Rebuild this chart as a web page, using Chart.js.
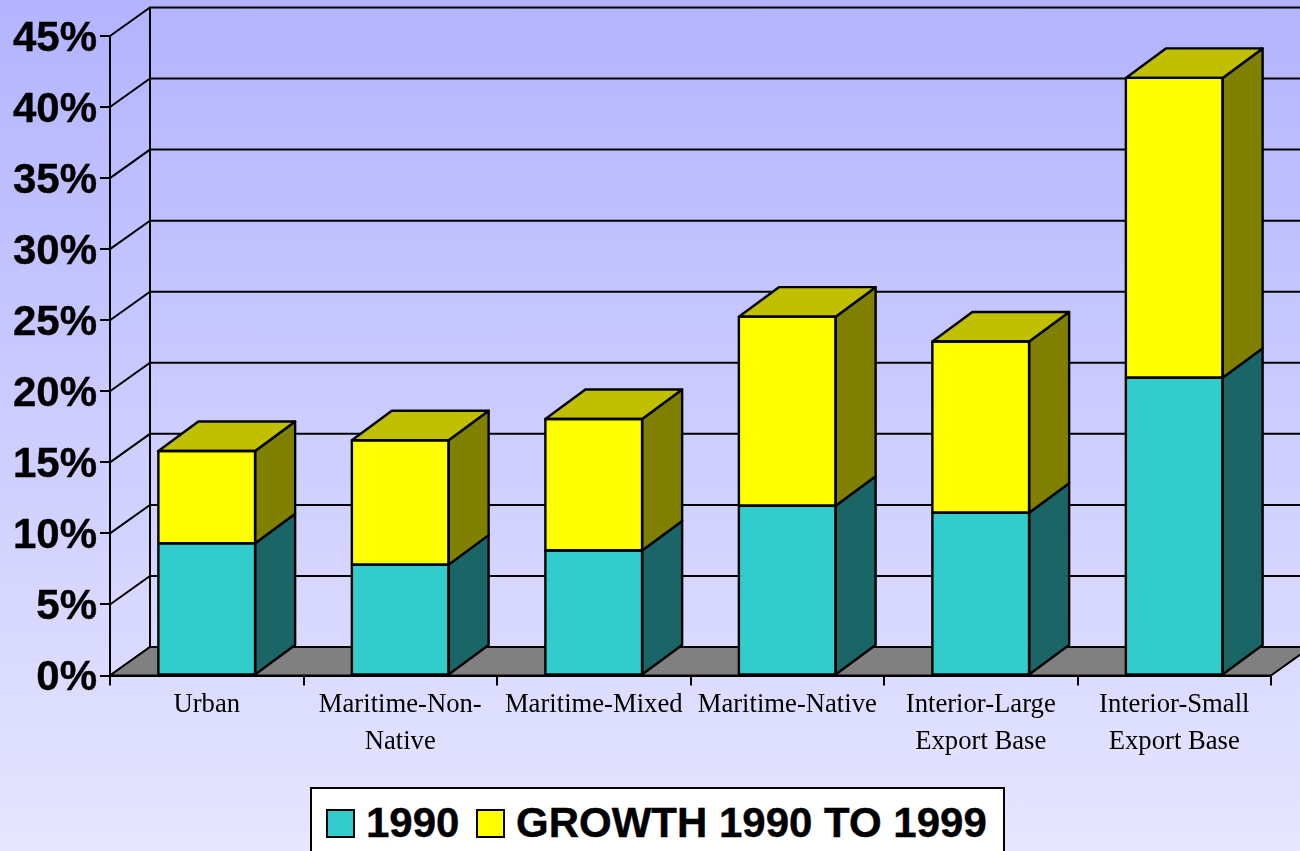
<!DOCTYPE html>
<html>
<head>
<meta charset="utf-8">
<title>Growth 1990 to 1999</title>
<script src="https://cdn.jsdelivr.net/npm/chart.js@4"></script>
<style>
  html, body { margin: 0; padding: 0; width: 1300px; height: 851px; overflow: hidden; }
  body { position: relative; background: linear-gradient(to bottom, #b3b3ff, #e6e6ff); }
  #wrap { position: absolute; left: 0; top: 0; width: 1300px; height: 851px; }
  #legend {
    position: absolute; left: 310px; top: 787px; width: 691px; height: 80px;
    border: 2px solid #000; background: #fff;
    font: bold 42px "Liberation Sans", Arial, sans-serif; color: #000;
    -webkit-text-stroke: 0.4px #000;
  }
  #legend span { position: absolute; top: 13px; white-space: nowrap; line-height: 42px; }
  #legend i { position: absolute; top: 20px; width: 25px; height: 25px; border: 2px solid #000; }
</style>
</head>
<body>
<div id="wrap"><canvas id="grafico" width="1300" height="851"></canvas></div>
<div id="legend"></div>
<script>
const categorias = [
  "Urban",
  ["Maritime-Non-", "Native"],
  "Maritime-Mixed",
  "Maritime-Native",
  ["Interior-Large", "Export Base"],
  ["Interior-Small", "Export Base"]
];
const valores1990 = [9.3, 7.8, 8.8, 11.95, 11.45, 20.95];
const crecimiento = [6.5, 8.75, 9.25, 13.3, 12.05, 21.1];
const nombres = ["1990", "GROWTH 1990 TO 1999"];

const DX = 40, DY = -28.5;
const DX_BARRA = 40, DY_BARRA = -29.5;

function poligono(ctx, puntos, relleno, ancho) {
  ctx.beginPath();
  puntos.forEach((p, i) => i ? ctx.lineTo(p[0], p[1]) : ctx.moveTo(p[0], p[1]));
  ctx.closePath();
  ctx.fillStyle = relleno;
  ctx.fill();
  ctx.lineWidth = ancho;
  ctx.strokeStyle = "#000";
  ctx.lineJoin = "round";
  ctx.stroke();
}

// back wall, side wall and floor, behind the bars
const paredes = {
  id: "paredes",
  beforeDatasetsDraw(chart) {
    const { ctx, chartArea: a, scales: { y } } = chart;
    ctx.save();
    y.ticks.forEach(t => {
      const py = y.getPixelForValue(t.value);
      ctx.beginPath();
      ctx.moveTo(a.left, py);
      ctx.lineTo(a.left + DX, py + DY);
      ctx.lineTo(a.right + DX, py + DY);
      ctx.lineWidth = 2;
      ctx.strokeStyle = "#000";
      ctx.stroke();
    });
    ctx.beginPath();
    ctx.moveTo(a.left + DX, a.bottom + DY);
    ctx.lineTo(a.left + DX, a.top + DY);
    ctx.stroke();
    poligono(ctx, [
      [a.left, a.bottom],
      [a.left + DX, a.bottom + DY],
      [a.right + DX, a.bottom + DY],
      [a.right, a.bottom]
    ], "#808080", 2);
    ctx.restore();
  }
};

// side and top faces of each bar, plus the outline of the front
const caras = {
  id: "caras",
  afterDatasetsDraw(chart) {
    const { ctx } = chart;
    ctx.save();
    chart.data.datasets.forEach((ds, i) => {
      chart.getDatasetMeta(i).data.forEach(el => {
        const der = el.x + el.width / 2, izq = el.x - el.width / 2;
        poligono(ctx, [
          [der, el.y], [der + DX_BARRA, el.y + DY_BARRA], [der + DX_BARRA, el.base + DY_BARRA], [der, el.base]
        ], ds.colorLado, 2.4);
        if (i === chart.data.datasets.length - 1) {
          poligono(ctx, [
            [izq, el.y], [izq + DX_BARRA, el.y + DY_BARRA], [der + DX_BARRA, el.y + DY_BARRA], [der, el.y]
          ], ds.colorTapa, 2.4);
        }
        ctx.lineWidth = 2.4;
        ctx.strokeStyle = "#000";
        ctx.strokeRect(izq, el.y, el.width, el.base - el.y);
      });
    });
    ctx.restore();
  }
};

// legend built from the datasets
const leyenda = {
  id: "leyenda",
  afterUpdate(chart) {
    const caja = document.getElementById("legend");
    const sitios = [[14, 54], [164, 204]];
    caja.innerHTML = "";
    chart.data.datasets.forEach((ds, i) => {
      const m = document.createElement("i");
      m.style.left = sitios[i][0] + "px";
      m.style.background = ds.backgroundColor;
      const s = document.createElement("span");
      s.style.left = sitios[i][1] + "px";
      s.textContent = ds.label;
      caja.append(m, s);
    });
  }
};

new Chart(document.getElementById("grafico"), {
  type: "bar",
  data: {
    labels: categorias,
    datasets: [
      { label: nombres[0], data: valores1990, backgroundColor: "#33cccc", colorLado: "#1a6666", borderWidth: 0 },
      { label: nombres[1], data: crecimiento, backgroundColor: "#ffff00", colorLado: "#808000", colorTapa: "#c0c000", borderWidth: 0 }
    ]
  },
  options: {
    responsive: false,
    animation: false,
    layout: { padding: { top: 36, right: 29, bottom: 0, left: 0 } },
    datasets: { bar: { categoryPercentage: 1, barPercentage: 0.5 } },
    plugins: { legend: { display: false }, title: { display: false }, tooltip: { enabled: false } },
    scales: {
      x: {
        stacked: true,
        afterFit(s) { s.height = 175.5; },
        grid: { drawOnChartArea: false, tickLength: 10, color: "#000", lineWidth: 2 },
        border: { color: "#000", width: 2 },
        ticks: {
          autoSkip: false, maxRotation: 0, padding: 1, color: "#000",
          font: { family: "'Liberation Serif'", size: 26.67, lineHeight: 1.38 }
        }
      },
      y: {
        stacked: true,
        min: 0,
        max: 45,
        afterFit(s) { s.width = 110; },
        grid: { drawOnChartArea: false, tickLength: 10, color: "#000", lineWidth: 2 },
        border: { color: "#000", width: 2 },
        ticks: {
          stepSize: 5, padding: 3, color: "#000", labelOffset: 3,
          textStrokeColor: "#000", textStrokeWidth: 0.4,
          font: { family: "'Liberation Sans'", size: 42, weight: "bold" },
          callback: v => v + "%"
        }
      }
    }
  },
  plugins: [paredes, caras, leyenda]
});
</script>
</body>
</html>
